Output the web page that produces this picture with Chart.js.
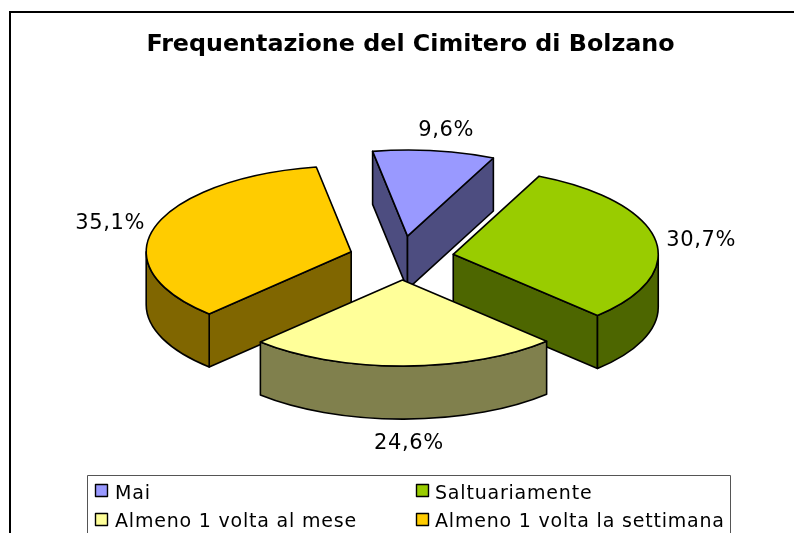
<!DOCTYPE html>
<html>
<head>
<meta charset="utf-8">
<style>html,body{margin:0;padding:0;background:#fff}canvas{display:block}</style>
<script src="https://cdn.jsdelivr.net/npm/chart.js@4/dist/chart.umd.min.js"></script>
</head>
<body>
<canvas id="c" width="794" height="533"></canvas>
<script>
const titleText = 'Frequentazione del Cimitero di Bolzano';
const categories = ['Mai', 'Saltuariamente', 'Almeno 1 volta al mese', 'Almeno 1 volta la settimana'];
const shares = [9.6, 30.7, 24.6, 35.1];
const topColors = ['#9999FF', '#99CC00', '#FFFF99', '#FFCC00'];
const sideColors = ['#4D4D80', '#4D6600', '#80804D', '#806600'];
const sideDrawOrder = [0, 3, 1, 2];

const SQUASH = 0.42, DEPTH = 53, CX = 403, CY = 258, EXPLODE = 50;
const sliceNudge = [[-2, -1], [1, 0], [-1, 1], [-4, 0]];
const labelNudge = [[12, -20], [46, 1], [5, 77], [-45, -3]];
const FONT = '"DejaVu Sans", Verdana, sans-serif';

function geom(el, i) {
  const p = el.getProps(['x', 'y', 'startAngle', 'endAngle', 'outerRadius'], true);
  const mid = (p.startAngle + p.endAngle) / 2;
  const ox = CX + Math.cos(mid) * EXPLODE + sliceNudge[i][0];
  const oy = CY + Math.sin(mid) * EXPLODE * SQUASH + sliceNudge[i][1];
  return {ox, oy, mid, R: p.outerRadius, a0: p.startAngle, a1: p.endAngle,
    rim: a => [ox + p.outerRadius * Math.cos(a), oy + p.outerRadius * SQUASH * Math.sin(a)]};
}

const pie3d = {
  id: 'pie3d',
  beforeDraw(chart) {
    const c = chart.ctx;
    c.save();
    c.fillStyle = '#fff'; c.fillRect(0, 0, chart.width, chart.height);
    c.fillStyle = '#000';
    c.fillRect(9, 11, chart.width - 9, 2);
    c.fillRect(9, 11, 2, chart.height - 11);
    c.restore();
  },
  beforeDatasetDraw() {
    return false; // slices are drawn below, squashed and pulled apart
  },
  afterDatasetsDraw(chart) {
    const c = chart.ctx, arcs = chart.getDatasetMeta(0).data;
    c.save();
    c.lineWidth = 1.6; c.strokeStyle = '#000'; c.lineJoin = 'round';
    for (const i of sideDrawOrder) {
      const g = geom(arcs[i], i);
      c.fillStyle = sideColors[i];
      // cut faces that turn towards the viewer
      const faces = [];
      if (Math.cos(g.a0) < 0) faces.push(g.a0);
      if (Math.cos(g.a1) > 0) faces.push(g.a1);
      for (const a of faces) {
        const [x, y] = g.rim(a);
        c.beginPath();
        c.moveTo(g.ox, g.oy); c.lineTo(x, y); c.lineTo(x, y + DEPTH); c.lineTo(g.ox, g.oy + DEPTH);
        c.closePath(); c.fill(); c.stroke();
      }
      // outer wall, front half only
      const twoPi = Math.PI * 2;
      for (const k of [-1, 0, 1]) {
        const s = Math.max(g.a0, k * twoPi), e = Math.min(g.a1, k * twoPi + Math.PI);
        if (e > s) {
          c.beginPath();
          c.ellipse(g.ox, g.oy, g.R, g.R * SQUASH, 0, s, e);
          c.ellipse(g.ox, g.oy + DEPTH, g.R, g.R * SQUASH, 0, e, s, true);
          c.closePath(); c.fill(); c.stroke();
        }
      }
    }
    // slice tops, drawn by the library's own arc elements
    arcs.forEach((el, i) => {
      const g = geom(el, i);
      c.save();
      c.translate(g.ox, g.oy); c.scale(1, SQUASH); c.translate(-el.x, -el.y);
      el.draw(c);
      c.restore();
    });
    arcs.forEach((el, i) => {
      const g = geom(el, i);
      c.beginPath();
      c.moveTo(g.ox, g.oy);
      c.ellipse(g.ox, g.oy, g.R, g.R * SQUASH, 0, g.a0, g.a1);
      c.closePath(); c.stroke();
    });
    // percentage labels
    c.fillStyle = '#000';
    c.font = '21px ' + FONT; c.letterSpacing = '0.6px';
    c.textAlign = 'center'; c.textBaseline = 'middle';
    arcs.forEach((el, i) => {
      const g = geom(el, i), [x, y] = g.rim(g.mid);
      c.fillText(shares[i].toFixed(1).replace('.', ',') + '%', x + labelNudge[i][0], y + labelNudge[i][1]);
    });
    // legend
    c.letterSpacing = '0.8px';
    c.strokeStyle = '#555'; c.lineWidth = 1;
    c.fillStyle = '#fff';
    c.fillRect(87.5, 475.5, 643, 70); c.strokeRect(87.5, 475.5, 643, 70);
    c.font = '19px ' + FONT; c.textAlign = 'left'; c.textBaseline = 'alphabetic';
    const boxX = [95, 416], textX = [115, 435], boxY = [484, 513], baseY = [499, 527];
    categories.forEach((name, i) => {
      const col = i % 2, row = i >> 1;
      c.fillStyle = topColors[i]; c.fillRect(boxX[col] + .5, boxY[row] + .5, 12, 12);
      c.strokeStyle = '#000'; c.lineWidth = 1.4; c.strokeRect(boxX[col] + .5, boxY[row] + .5, 12, 12);
      c.fillStyle = '#000';
      c.fillText(name, textX[col], baseY[row]);
    });
    c.restore();
  }
};

new Chart(document.getElementById('c'), {
  type: 'pie',
  data: {
    labels: categories,
    datasets: [{
      data: shares,
      backgroundColor: topColors,
      borderWidth: 0
    }]
  },
  options: {
    responsive: false,
    animation: false,
    rotation: -9.8,
    radius: 205,
    layout: {padding: {left: 27, top: 31}},
    events: [],
    plugins: {
      legend: {display: false},
      tooltip: {enabled: false},
      title: {
        display: true,
        text: titleText,
        color: '#000',
        font: {family: FONT, size: 23.8, weight: 'bold'},
        padding: {top: 0, bottom: 10}
      }
    }
  },
  plugins: [pie3d]
});
</script>
</body>
</html>
